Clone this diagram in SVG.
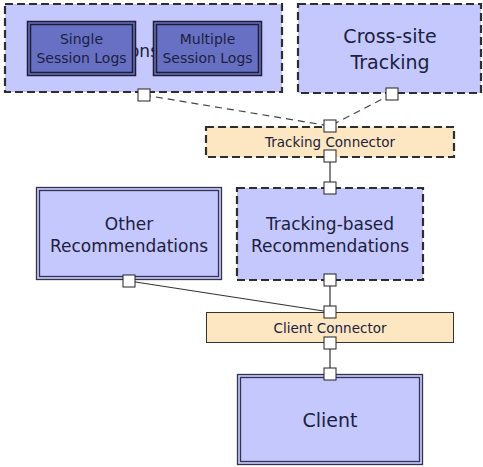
<svg xmlns="http://www.w3.org/2000/svg" width="483" height="467" viewBox="0 0 483 467">
<style>
.box{fill:#c5c8fc}
.dash{fill:none;stroke:#2e2e2e;stroke-width:2.2;stroke-dasharray:8 4}
.dbl{fill:none;stroke:#33334f;stroke-width:1.3}
.inner{fill:#6870c4}
.idbl{fill:none;stroke:#1e1e30;stroke-width:1.5}
.conn{fill:#fde7c2}
.port{fill:#ffffff;stroke:#222;stroke-width:1}
.t{font-family:"DejaVu Sans",Verdana,sans-serif;fill:#1c2040;text-anchor:middle}
.big{font-size:17px}
.sm{font-size:13.5px}
.md{font-size:14px}
.line{stroke:#333;stroke-width:1.2;fill:none}
.dline{stroke:#444;stroke-width:1.2;fill:none;stroke-dasharray:7 5}
</style>
<g id="connectors">
<line class="dline" x1="144" y1="95" x2="330" y2="126"/>
<line class="dline" x1="392" y1="94" x2="330" y2="126"/>
<line class="line" x1="330" y1="156" x2="330" y2="188"/>
<line class="line" x1="129" y1="281" x2="330" y2="312"/>
<line class="line" x1="330" y1="280" x2="330" y2="312"/>
<line class="line" x1="330" y1="343" x2="330" y2="374"/>
</g>
<g id="sessions">
<rect class="box" x="5" y="4" width="277" height="88"/>
<rect class="dash" x="5" y="4" width="277" height="88"/>
<text class="t big" x="144" y="57">ons</text>
</g>
<g id="single-session-logs">
<rect class="inner" x="27" y="21" width="109" height="55"/>
<rect class="idbl" x="27.5" y="21.5" width="108" height="54"/>
<rect class="idbl" x="30.5" y="24.5" width="102" height="48"/>
<text class="t md" x="81.5" y="44">Single</text>
<text class="t md" x="81.5" y="63">Session Logs</text>
</g>
<g id="multiple-session-logs">
<rect class="inner" x="153" y="21" width="109" height="55"/>
<rect class="idbl" x="153.5" y="21.5" width="108" height="54"/>
<rect class="idbl" x="156.5" y="24.5" width="102" height="48"/>
<text class="t md" x="207.5" y="44">Multiple</text>
<text class="t md" x="207.5" y="63">Session Logs</text>
</g>
<g id="cross-site-tracking">
<rect class="box" x="298" y="4" width="183" height="89"/>
<rect class="dash" x="298" y="4" width="183" height="89"/>
<text class="t" x="390" y="43" font-size="19">Cross-site</text>
<text class="t" x="390" y="69" font-size="19">Tracking</text>
</g>
<g id="tracking-connector">
<rect class="conn" x="206" y="127" width="248" height="30"/>
<rect class="dash" x="206" y="127" width="248" height="30" stroke-width="1.4"/>
<text class="t sm" x="330" y="147">Tracking Connector</text>
</g>
<g id="other-recommendations">
<rect class="box" x="36" y="187" width="186" height="93"/>
<rect class="dbl" x="36.5" y="187.5" width="185" height="92"/>
<rect class="dbl" x="39.5" y="190.5" width="179" height="86"/>
<text class="t big" x="129" y="230">Other</text>
<text class="t big" x="129" y="252">Recommendations</text>
</g>
<g id="tracking-based-recommendations">
<rect class="box" x="237" y="188" width="186" height="92"/>
<rect class="dash" x="237" y="188" width="186" height="92"/>
<text class="t big" x="330" y="230">Tracking-based</text>
<text class="t big" x="330" y="252">Recommendations</text>
</g>
<g id="client-connector">
<rect class="conn" x="206" y="312" width="248" height="31"/>
<rect x="206.5" y="312.5" width="247" height="30" fill="none" stroke="#333" stroke-width="1"/>
<text class="t sm" x="330" y="333">Client Connector</text>
</g>
<g id="client">
<rect class="box" x="237" y="374" width="186" height="91"/>
<rect class="dbl" x="237.5" y="374.5" width="185" height="90"/>
<rect class="dbl" x="240.5" y="377.5" width="179" height="84"/>
<text class="t" x="330" y="427" font-size="19">Client</text>
</g>
<g id="ports">
<rect class="port" x="138" y="89" width="12" height="12"/>
<rect class="port" x="386" y="88" width="12" height="12"/>
<rect class="port" x="324" y="120" width="12" height="12"/>
<rect class="port" x="324" y="150" width="12" height="12"/>
<rect class="port" x="324" y="182" width="12" height="12"/>
<rect class="port" x="324" y="274" width="12" height="12"/>
<rect class="port" x="123" y="275" width="12" height="12"/>
<rect class="port" x="324" y="306" width="12" height="12"/>
<rect class="port" x="324" y="337" width="12" height="12"/>
<rect class="port" x="324" y="368" width="12" height="12"/>
</g>
</svg>
